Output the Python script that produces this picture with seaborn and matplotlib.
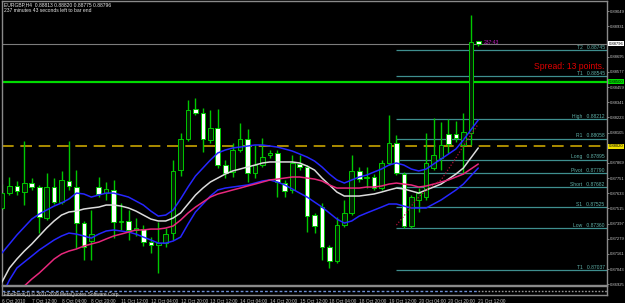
import numpy as np
import pandas as pd
import matplotlib
matplotlib.use("Agg")
import matplotlib.pyplot as plt
import seaborn as sns
from matplotlib.patches import Rectangle

sns.set_style("dark")
plt.rcParams['font.family'] = ['Liberation Sans', 'DejaVu Sans']

# ---------------- data ----------------
header_text = "EURGBP,H4  0.88813 0.88820 0.88775 0.88796"
timer_text = "237 minutes 43 seconds left to bar end"
timer_short = "237:43"
spread_text = "Spread: 13 points."
sub_text = "FiboPivot(1) \u00a9 2001-2009 MetaQuotes Software Corp."

opens = [0.87518, 0.87634, 0.87689, 0.87642, 0.87712, 0.87681, 0.87440, 0.87681, 0.87564, 0.87728,
         0.87681, 0.87401, 0.87261, 0.87681, 0.87634, 0.87658, 0.87409, 0.87417, 0.87347, 0.87354,
         0.87253, 0.87230, 0.87245, 0.87323, 0.87813, 0.88055, 0.88288, 0.88257, 0.88047, 0.88140,
         0.87852, 0.87798, 0.87969, 0.88055, 0.87790, 0.87852, 0.87930, 0.87946, 0.87712, 0.87658,
         0.87860, 0.87837, 0.87463, 0.87525, 0.87214, 0.87105, 0.87385, 0.87479, 0.87806, 0.87751,
         0.87759, 0.87673, 0.87868, 0.88023, 0.87782, 0.87378, 0.87580, 0.87603, 0.87829, 0.87907,
         0.88093, 0.88093, 0.88008, 0.88101, 0.88813]
highs = [0.87704, 0.87759, 0.87728, 0.88039, 0.87751, 0.87697, 0.87790, 0.87751, 0.87806, 0.88039,
         0.87813, 0.87417, 0.87502, 0.87759, 0.87720, 0.87736, 0.87557, 0.87502, 0.87440, 0.87385,
         0.87292, 0.87409, 0.87362, 0.87891, 0.88101, 0.88358, 0.88374, 0.88296, 0.88280, 0.88288,
         0.87891, 0.88023, 0.88179, 0.88132, 0.88008, 0.88062, 0.87969, 0.87969, 0.87736, 0.87930,
         0.87930, 0.87852, 0.87479, 0.87557, 0.87230, 0.87448, 0.87580, 0.87930, 0.87837, 0.87837,
         0.87782, 0.87891, 0.88241, 0.88086, 0.87798, 0.87619, 0.87673, 0.88101, 0.88218, 0.88187,
         0.88210, 0.88195, 0.88257, 0.89019, 0.88820]
lows = [0.87502, 0.87619, 0.87619, 0.87541, 0.87658, 0.87323, 0.87424, 0.87549, 0.87549, 0.87658,
        0.87207, 0.87113, 0.87113, 0.87603, 0.87580, 0.87284, 0.87347, 0.87269, 0.87300, 0.87222,
        0.87168, 0.87012, 0.87214, 0.87269, 0.87767, 0.88039, 0.88241, 0.87953, 0.88023, 0.87829,
        0.87751, 0.87759, 0.87953, 0.87720, 0.87751, 0.87837, 0.87907, 0.87603, 0.87603, 0.87634,
        0.87813, 0.87331, 0.87323, 0.87113, 0.87051, 0.87090, 0.87370, 0.87463, 0.87720, 0.87673,
        0.87658, 0.87658, 0.87852, 0.87774, 0.87362, 0.87362, 0.87487, 0.87580, 0.87813, 0.87813,
        0.87946, 0.88031, 0.87790, 0.88008, 0.88775]
closes = [0.87634, 0.87689, 0.87650, 0.87712, 0.87681, 0.87448, 0.87681, 0.87564, 0.87736, 0.87689,
          0.87401, 0.87214, 0.87315, 0.87627, 0.87666, 0.87409, 0.87417, 0.87347, 0.87362, 0.87253,
          0.87230, 0.87245, 0.87315, 0.87806, 0.88055, 0.88280, 0.88257, 0.88055, 0.88140, 0.87852,
          0.87790, 0.87969, 0.88055, 0.87790, 0.87852, 0.87914, 0.87946, 0.87720, 0.87650, 0.87868,
          0.87837, 0.87455, 0.87378, 0.87214, 0.87105, 0.87385, 0.87479, 0.87806, 0.87743, 0.87759,
          0.87673, 0.87868, 0.88023, 0.87790, 0.87378, 0.87603, 0.87634, 0.87868, 0.87930, 0.88008,
          0.88016, 0.88062, 0.88109, 0.88809, 0.88796]

upper_band = [0.87168, 0.87238, 0.87308, 0.87370, 0.87432, 0.87471, 0.87502, 0.87533, 0.87557, 0.87588,
              0.87634, 0.87627, 0.87603, 0.87619, 0.87634, 0.87634, 0.87619, 0.87603, 0.87572, 0.87541,
              0.87494, 0.87455, 0.87463, 0.87502, 0.87588, 0.87681, 0.87767, 0.87829, 0.87891, 0.87946,
              0.87969, 0.87985, 0.87992, 0.88000, 0.88008, 0.88008, 0.88000, 0.87992, 0.87977, 0.87961,
              0.87938, 0.87914, 0.87883, 0.87837, 0.87782, 0.87736, 0.87712, 0.87736, 0.87759, 0.87774,
              0.87798, 0.87821, 0.87852, 0.87868, 0.87852, 0.87821, 0.87806, 0.87821, 0.87860, 0.87899,
              0.87938, 0.87977, 0.88047, 0.88125, 0.88202]
middle_line = [0.86942, 0.87051, 0.87121, 0.87183, 0.87238, 0.87300, 0.87362, 0.87417, 0.87463, 0.87487,
               0.87494, 0.87510, 0.87518, 0.87525, 0.87541, 0.87541, 0.87533, 0.87518, 0.87494, 0.87463,
               0.87432, 0.87417, 0.87417, 0.87440, 0.87479, 0.87549, 0.87619, 0.87673, 0.87720, 0.87751,
               0.87782, 0.87806, 0.87821, 0.87837, 0.87852, 0.87868, 0.87876, 0.87876, 0.87876, 0.87876,
               0.87868, 0.87844, 0.87813, 0.87751, 0.87697, 0.87642, 0.87611, 0.87611, 0.87611, 0.87619,
               0.87627, 0.87642, 0.87658, 0.87673, 0.87666, 0.87650, 0.87634, 0.87658, 0.87681, 0.87704,
               0.87743, 0.87782, 0.87829, 0.87907, 0.87985]
ma_line = [0.86763, 0.86802, 0.86856, 0.86911, 0.86965, 0.87012, 0.87066, 0.87121, 0.87160, 0.87183,
           0.87199, 0.87222, 0.87238, 0.87253, 0.87277, 0.87300, 0.87315, 0.87331, 0.87347, 0.87347,
           0.87354, 0.87354, 0.87362, 0.87378, 0.87424, 0.87479, 0.87525, 0.87564, 0.87603, 0.87627,
           0.87642, 0.87658, 0.87673, 0.87689, 0.87704, 0.87720, 0.87736, 0.87743, 0.87751, 0.87759,
           0.87759, 0.87751, 0.87743, 0.87728, 0.87697, 0.87673, 0.87673, 0.87673, 0.87673, 0.87681,
           0.87681, 0.87689, 0.87704, 0.87712, 0.87704, 0.87697, 0.87681, 0.87689, 0.87704, 0.87720,
           0.87736, 0.87759, 0.87782, 0.87821, 0.87860]
lower_band = [0.86841, 0.86958, 0.87051, 0.87098, 0.87144, 0.87191, 0.87230, 0.87269, 0.87300, 0.87323,
              0.87315, 0.87300, 0.87284, 0.87315, 0.87339, 0.87347, 0.87339, 0.87331, 0.87315, 0.87292,
              0.87269, 0.87245, 0.87245, 0.87261, 0.87292, 0.87393, 0.87487, 0.87549, 0.87611, 0.87658,
              0.87673, 0.87681, 0.87689, 0.87697, 0.87712, 0.87728, 0.87736, 0.87720, 0.87697, 0.87666,
              0.87634, 0.87603, 0.87564, 0.87525, 0.87479, 0.87432, 0.87401, 0.87417, 0.87455, 0.87479,
              0.87502, 0.87525, 0.87549, 0.87549, 0.87533, 0.87518, 0.87518, 0.87518, 0.87549, 0.87580,
              0.87619, 0.87658, 0.87704, 0.87767, 0.87829]

dotted_bars = [53, 54, 55, 56, 57, 58, 59, 60, 61, 62, 63, 64]
dotted_vals = [0.87385, 0.87455, 0.87533, 0.87603, 0.87658, 0.87697, 0.87736, 0.87821, 0.87907, 0.88000,
               0.88086, 0.88171]

pivot_names = ["T2", "T1", "High", "R1", "Long", "Pivot", "Short", "S1", "Low", "T1"]
pivot_levels = [0.88745, 0.88545, 0.88212, 0.88058, 0.87895, 0.87790, 0.87682, 0.87525, 0.87360, 0.87037]
pivot_start_bar = 53

bid_price = 0.88796
bid_line = 0.88791
green_level = 0.88500
yellow_level = 0.87998
box_labels = ["0.88796", "0.88500", "0.88020"]

# labels hidden under the price boxes in the reference are left out
y_ticks = [0.86925, 0.87043, 0.87161, 0.87279, 0.87397, 0.87515, 0.87633, 0.87751, 0.87869,
           0.88105, 0.88223, 0.88341, 0.88459, 0.88577, 0.88695, 0.88931, 0.89049]
x_tick_bars = [0, 4, 8, 12, 16, 20, 24, 28, 32, 36, 40, 44, 48, 52, 56, 60, 64]
x_labels = ["6 Oct 2010", "7 Oct 12:00", "8 Oct 04:00", "8 Oct 20:00", "11 Oct 12:00", "12 Oct 04:00",
            "12 Oct 20:00", "13 Oct 12:00", "14 Oct 04:00", "14 Oct 20:00", "15 Oct 12:00", "18 Oct 04:00",
            "18 Oct 20:00", "19 Oct 12:00", "20 Oct 04:00", "20 Oct 20:00", "21 Oct 12:00"]

# ---------------- figure ----------------
W, H = 625, 303
fig = plt.figure(figsize=(W / 100, H / 100), dpi=100, facecolor="black")


def px_axes(l, t, r, b):
    return [l / W, 1 - b / H, (r - l) / W, (b - t) / H]


ax = fig.add_axes(px_axes(2, 1, 607, 285))
ax2 = fig.add_axes(px_axes(2, 286, 607, 295))
for a in (ax, ax2):
    a.set_facecolor("black")
    a.grid(False)
    for s in a.spines.values():
        s.set_color("#8a8a8a")
        s.set_linewidth(1.0)

XMAX = 81.3
ax.set_xlim(0, XMAX)
ax.set_ylim(0.86919, 0.89128)
ax2.set_xlim(0, XMAX)
ax2.set_ylim(-1, 1)

GREEN = "#00c800"
n = len(opens)
bars = np.arange(n)
ax.vlines(bars, lows, highs, color=GREEN, lw=1.0, zorder=2)
bw = 0.62
for i in range(n):
    o, c = opens[i], closes[i]
    lo, hi = min(o, c), max(o, c)
    h = max(hi - lo, 0.000012)
    fc = "#031f03" if c >= o else "white"
    ax.add_patch(Rectangle((i - bw / 2, lo), bw, h, facecolor=fc, edgecolor=GREEN, lw=0.7, zorder=3))

# indicator lines via seaborn
df = pd.concat([
    pd.DataFrame({"bar": bars, "price": upper_band, "series": "upper"}),
    pd.DataFrame({"bar": bars, "price": lower_band, "series": "lower"}),
    pd.DataFrame({"bar": bars, "price": middle_line, "series": "middle"}),
    pd.DataFrame({"bar": bars, "price": ma_line, "series": "ma"}),
])
palette = {"upper": "#2626ff", "lower": "#2626ff", "middle": "#dcdcdc", "ma": "#e8287c"}
sns.lineplot(data=df, x="bar", y="price", hue="series", palette=palette, linewidth=1.1,
             legend=False, ax=ax, estimator=None, sort=False, zorder=4)
sns.lineplot(x=dotted_bars, y=dotted_vals, color="#b01038", linewidth=0.9, linestyle=(0, (1, 1.5)),
             ax=ax, zorder=4)

# horizontal levels
ax.axhline(bid_line, color="#7c7c7c", lw=0.8, zorder=1)
ax.axhline(green_level, color="#00dc00", lw=1.6, zorder=1)
ax.axhline(yellow_level, color="#c8a400", lw=1.2, dashes=(7, 4), zorder=1)
ax.hlines(pivot_levels, pivot_start_bar, XMAX, color="#3f8f8f", lw=0.9, zorder=1)

ytr = ax.get_yaxis_transform()
for name, lev in zip(pivot_names, pivot_levels):
    ax.text(0.996, lev + 0.00002, f"{name}   {lev:.5f}", transform=ytr, ha="right", va="bottom",
            fontsize=3.6, color="#5fb0a8", zorder=5)

# right-side price boxes
for lev, txt, fc in zip([bid_price, green_level, yellow_level], box_labels, ["white", "#00e000", "#f0e000"]):
    ax.text(1.0025, lev, txt, transform=ytr, ha="left", va="center", fontsize=2.95,
            color="black", zorder=10, clip_on=False,
            bbox=dict(boxstyle="square,pad=0.12", fc=fc, ec="none"))

ax.yaxis.tick_right()
ax.set_yticks(y_ticks)
ax.set_yticklabels([f"{t:.5f}" for t in y_ticks])
ax.tick_params(axis="y", length=1.5, width=0.6, color="#9a9a9a", labelcolor="#c8c8c8", labelsize=2.95, pad=0.6)
ax.tick_params(axis="x", bottom=False, labelbottom=False)
ax.set_xlabel("")
ax.set_ylabel("")

# texts
fig.text(4 / W, 1 - 2 / H, header_text, ha="left", va="top", fontsize=3.6, color="#e6e6e6")
fig.text(4 / W, 1 - 8 / H, timer_text, ha="left", va="top", fontsize=3.6, color="#e6e6e6")
ax.text(0.995, 0.88615, spread_text, transform=ytr, ha="right", va="center", fontsize=6.2,
        color="#e00000", zorder=6)
ax.text(64.8, 0.88809, timer_short, ha="left", va="center", fontsize=3.6, color="#c020c0", zorder=6)

# sub window
ax2.hlines(0, 0, 64, color="#6d8fd6", lw=1.0, linestyles=(0, (2, 1.5)))
ax2.hlines(0, 64, XMAX, color="#9a9a9a", lw=1.0, linestyles=(0, (1.2, 1.2)))
ax2.text(0.003, 0.1, sub_text, transform=ax2.transAxes, ha="left", va="center", fontsize=3.4,
         color="#e0e0e0")
ax2.set_yticks([])
ax2.set_xticks(x_tick_bars)
ax2.set_xticklabels(x_labels, ha="left")
ax2.tick_params(axis="x", length=2, width=0.6, color="#9a9a9a", labelcolor="#c8c8c8", labelsize=3.4, pad=1.2)
ax2.set_xlabel("")
ax2.set_ylabel("")

fig.savefig("out.png", dpi=100, facecolor="black")
